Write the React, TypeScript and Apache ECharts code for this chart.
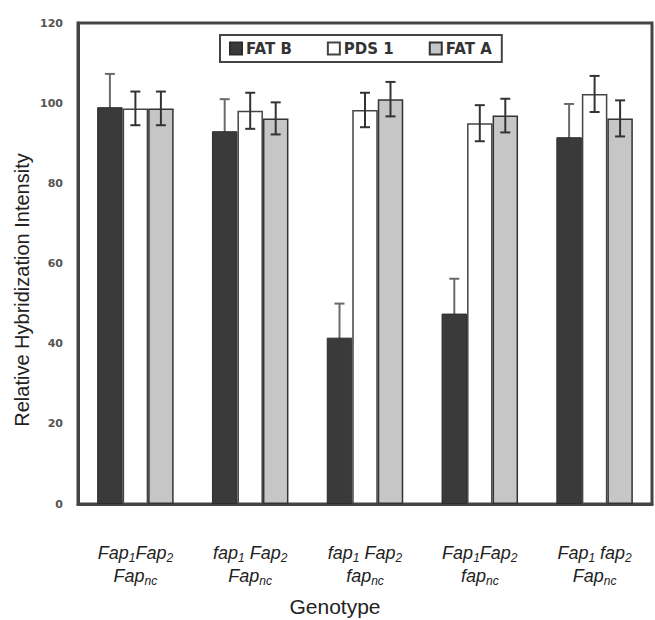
import React, { useEffect, useRef } from "react";
import * as echarts from "echarts";

const genotypes = [
  "Fap1Fap2/Fapnc",
  "fap1 Fap2/Fapnc",
  "fap1 Fap2/fapnc",
  "Fap1Fap2/fapnc",
  "Fap1 fap2/Fapnc",
];
const seriesNames = ["FAT B", "PDS 1", "FAT A"];
const fatB = [99, 93, 41.5, 47.5, 91.5];
const fatBErr = [8.3, 8, 8.5, 8.7, 8.3];
const pds1 = [98.7, 98.1, 98.3, 95.0, 102.3];
const pds1Err = [4.2, 4.5, 4.3, 4.5, 4.5];
const fatA = [98.7, 96.2, 101.0, 96.9, 96.2];
const fatAErr = [4.2, 4.0, 4.3, 4.2, 4.5];
const yTicks = { min: 0, max: 120, interval: 20 };

const BAR_W = 25.5;

function toRich(s: string): string {
  return s
    .split("/")
    .map((line) => "{a|" + line.replace(/(1|2|nc)/g, "}{s|$1}{a|") + "}")
    .join("\n")
    .replace(/\{a\|\}/g, "");
}

function errorSeries(vals: number[], errs: number[], offset: number, color: string, z: number) {
  return {
    type: "custom",
    z,
    silent: true,
    data: vals.map((v, i) => [i, v - errs[i], v + errs[i]]),
    encode: { x: 0, y: [1, 2] },
    renderItem: (params: any, api: any) => {
      const i = api.value(0);
      const lo = api.coord([i, api.value(1)]);
      const hi = api.coord([i, api.value(2)]);
      const x = lo[0] + offset;
      const w = 5;
      const style = { stroke: color, lineWidth: 2 };
      return {
        type: "group",
        children: [
          { type: "line", shape: { x1: x, y1: lo[1], x2: x, y2: hi[1] }, style },
          { type: "line", shape: { x1: x - w, y1: hi[1], x2: x + w, y2: hi[1] }, style },
          { type: "line", shape: { x1: x - w, y1: lo[1], x2: x + w, y2: lo[1] }, style },
        ],
      };
    },
  };
}

const labelFont = "Liberation Sans, Arial, sans-serif";

export default function App() {
  const ref = useRef<HTMLDivElement>(null);
  useEffect(() => {
    if (!ref.current) return;
    const chart = echarts.init(ref.current, null, { renderer: "svg" });
    chart.setOption({
      animation: false,
      backgroundColor: "#ffffff",
      grid: {
        left: 78,
        right: 3,
        top: 23,
        bottom: 116,
        show: true,
        borderColor: "#444",
        borderWidth: 3,
        containLabel: false,
      },
      legend: {
        data: seriesNames,
        left: 220,
        top: 35,
        padding: [6, 10, 6, 9],
        borderColor: "#444",
        borderWidth: 2,
        itemWidth: 12,
        itemHeight: 12,
        itemGap: 35,
        icon: "rect",
        textStyle: {
          fontFamily: "DejaVu Sans",
          fontWeight: "bold",
          fontSize: 15,
          color: "#333",
          padding: [0, 0, 0, -1],
        },
      },
      xAxis: {
        type: "category",
        data: genotypes,
        axisLine: { show: true, lineStyle: { color: "#444", width: 3 } },
        axisTick: { show: false },
        axisLabel: {
          margin: 37,
          interval: 0,
          formatter: (v: string) => toRich(v),
          rich: {
            a: {
              fontFamily: labelFont,
              fontStyle: "italic",
              fontSize: 18,
              color: "#222",
              lineHeight: 23,
            },
            s: {
              fontFamily: labelFont,
              fontStyle: "italic",
              fontSize: 12,
              color: "#222",
              lineHeight: 13,
              verticalAlign: "bottom",
            },
          },
        },
      },
      yAxis: {
        type: "value",
        min: yTicks.min,
        max: yTicks.max,
        interval: yTicks.interval,
        axisLine: { show: true, lineStyle: { color: "#444", width: 3 } },
        axisTick: { show: false },
        splitLine: { show: false },
        axisLabel: {
          margin: 15,
          fontFamily: "DejaVu Sans",
          fontWeight: "bold",
          fontSize: 11,
          color: "#555",
        },
      },
      graphic: [
        {
          type: "text",
          x: 22,
          y: 290,
          rotation: Math.PI / 2,
          style: {
            text: "Relative Hybridization Intensity",
            fontFamily: labelFont,
            fontSize: 20,
            fill: "#222",
            align: "center",
            verticalAlign: "middle",
          },
        },
        {
          type: "text",
          x: 335,
          y: 606,
          style: {
            text: "Genotype",
            fontFamily: labelFont,
            fontSize: 21,
            fill: "#222",
            align: "center",
            verticalAlign: "middle",
          },
        },
      ],
      series: [
        {
          name: seriesNames[0],
          type: "bar",
          data: fatB,
          barWidth: BAR_W,
          barGap: "0%",
          z: 3,
          itemStyle: { color: "#3a3a3a", borderColor: "#2c2c2c", borderWidth: 1 },
        },
        {
          name: seriesNames[1],
          type: "bar",
          data: pds1,
          barWidth: BAR_W,
          barGap: "0%",
          z: 3,
          itemStyle: { color: "#ffffff", borderColor: "#444", borderWidth: 1.5 },
        },
        {
          name: seriesNames[2],
          type: "bar",
          data: fatA,
          barWidth: BAR_W,
          barGap: "0%",
          z: 3,
          itemStyle: { color: "#c6c6c6", borderColor: "#333", borderWidth: 1.5 },
        },
        errorSeries(fatB, fatBErr, -BAR_W, "#6a6a6a", 1),
        errorSeries(pds1, pds1Err, 0, "#333", 5),
        errorSeries(fatA, fatAErr, BAR_W, "#333", 5),
      ],
    });
    return () => chart.dispose();
  }, []);
  return (
    <div
      ref={ref}
      style={{ position: "fixed", left: 0, top: 0, width: 655, height: 620 }}
    />
  );
}
